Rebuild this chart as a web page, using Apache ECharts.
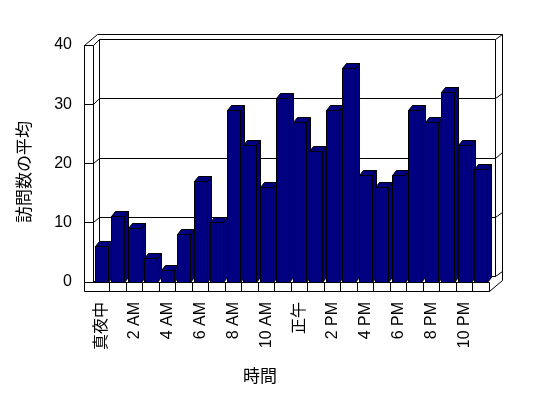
<!DOCTYPE html>
<html>
<head>
<meta charset="utf-8">
<script src="https://cdn.jsdelivr.net/npm/echarts@6/dist/echarts.min.js"></script>
<style>
  html, body { margin: 0; background: #fff; }
  #main { width: 548px; height: 398px; }
</style>
</head>
<body>
<div id="main"></div>
<script>
const hours = ['真夜中', '1 AM', '2 AM', '3 AM', '4 AM', '5 AM', '6 AM', '7 AM', '8 AM', '9 AM', '10 AM', '11 AM',
    '正午', '1 PM', '2 PM', '3 PM', '4 PM', '5 PM', '6 PM', '7 PM', '8 PM', '9 PM', '10 PM', '11 PM'];
const visits = [6, 11, 9, 4, 2, 8, 17, 10, 29, 23, 16, 31, 27, 22, 29, 36, 18, 16, 18, 29, 27, 32, 23, 19];
const yTicks = [0, 10, 20, 30, 40];
const xTitle = '時間';
const yTitle = '訪問数の平均';

// 奥行き (walls / floor) and bar depth
const DX = 6.5, DY = -5.3;
const WALL = 9, FLOOR = 9.5;
const BDX = 4, BDY = -5;
const font = "'Liberation Sans', 'Noto Sans CJK JP', sans-serif";

function px(v) {
    return Math.round(v - 0.5) + 0.5;
}

function line(x1, y1, x2, y2) {
    return {
        type: 'line',
        shape: { x1: px(x1), y1: px(y1), x2: px(x2), y2: px(y2) },
        style: { stroke: '#000', lineWidth: 1 }
    };
}

function renderFrame(params, api) {
    const cs = params.coordSys;
    const L = cs.x, R = cs.x + cs.width, T = cs.y, B = cs.y + cs.height;
    const lo = L - WALL;
    const cw = api.size([1, 0])[0];
    const els = [];

    yTicks.forEach(function (v) {
        const y = api.coord([0, v])[1];
        els.push(line(L + DX, y + DY, R + DX, y + DY));
        els.push(line(R + DX, y + DY, R + 2 * DX, y + 2 * DY));
        els.push(line(lo, y, L, y));
        els.push(line(L, y, L + DX, y + DY));
    });

    // back wall edges
    els.push(line(L + DX, T + DY, L + DX, B + DY));
    els.push(line(R + DX, T + DY, R + DX, B + DY));
    els.push(line(lo + 2 * DX, T + 2 * DY, R + 2 * DX, T + 2 * DY));
    els.push(line(R + 2 * DX, T + 2 * DY, R + 2 * DX, B + FLOOR + 2 * DY));
    els.push(line(lo, T, lo + 2 * DX, T + 2 * DY));

    // left wall
    els.push(line(lo, T, lo, B + FLOOR));
    els.push(line(L, T, L, B));

    // floor
    els.push(line(L, B, R, B));
    els.push(line(lo, B + FLOOR, R, B + FLOOR));
    els.push(line(R, B, R, B + FLOOR));
    els.push(line(R, B + FLOOR, R + 2 * DX, B + FLOOR + 2 * DY));
    for (let k = 1; k < hours.length; k++) {
        els.push(line(L + k * cw, B, L + k * cw, B + FLOOR));
    }

    return { type: 'group', children: els };
}

function renderBar(params, api) {
    const i = api.value(0), v = api.value(1);
    const base = api.coord([i, 0]);
    const top = api.coord([i, v]);
    const cw = api.size([1, 0])[0];
    const x0 = px(base[0] - cw / 2 + 2);
    const x1 = px(x0 + cw * 0.81);
    const yb = px(base[1]);
    const yt = px(top[1]);
    const st = { fill: '#000080', stroke: '#000', lineWidth: 1 };
    return {
        type: 'group',
        children: [
            { type: 'polygon', shape: { points: [[x1, yt], [x1 + BDX, yt + BDY], [x1 + BDX, yb + BDY], [x1, yb]] }, style: st },
            { type: 'polygon', shape: { points: [[x0, yt], [x0 + BDX, yt + BDY], [x1 + BDX, yt + BDY], [x1, yt]] }, style: st },
            { type: 'rect', shape: { x: x0, y: yt, width: x1 - x0, height: yb - yt }, style: st }
        ]
    };
}

const chart = echarts.init(document.getElementById('main'));
const option = {
    animation: false,
    backgroundColor: '#fff',
    grid: { left: 93, right: 59, top: 45, bottom: 116 },
    xAxis: {
        type: 'category',
        data: hours,
        axisLine: { show: false },
        axisTick: { show: false },
        axisLabel: { interval: 1, rotate: 90, margin: 20, fontSize: 16, color: '#000', fontFamily: font }
    },
    yAxis: {
        type: 'value',
        min: 0,
        max: 40,
        interval: 10,
        axisLine: { show: false },
        axisTick: { show: false },
        splitLine: { show: false },
        axisLabel: { margin: 21, fontSize: 16, color: '#000', fontFamily: font }
    },
    graphic: [
        {
            type: 'text', x: 260, y: 376,
            style: { text: xTitle, font: "17px 'Noto Sans CJK JP'", fill: '#000', textAlign: 'center', textVerticalAlign: 'middle' }
        },
        {
            type: 'text', x: 24, y: 172, rotation: Math.PI / 2,
            style: { text: yTitle, font: "17px 'Noto Sans CJK JP'", fill: '#000', textAlign: 'center', textVerticalAlign: 'middle' }
        }
    ],
    series: [
        { type: 'custom', renderItem: renderFrame, data: [[0, 0]], z: 1, silent: true },
        { type: 'custom', renderItem: renderBar, data: visits.map(function (v, i) { return [i, v]; }), z: 2 }
    ]
};
chart.setOption(option);
</script>
</body>
</html>
